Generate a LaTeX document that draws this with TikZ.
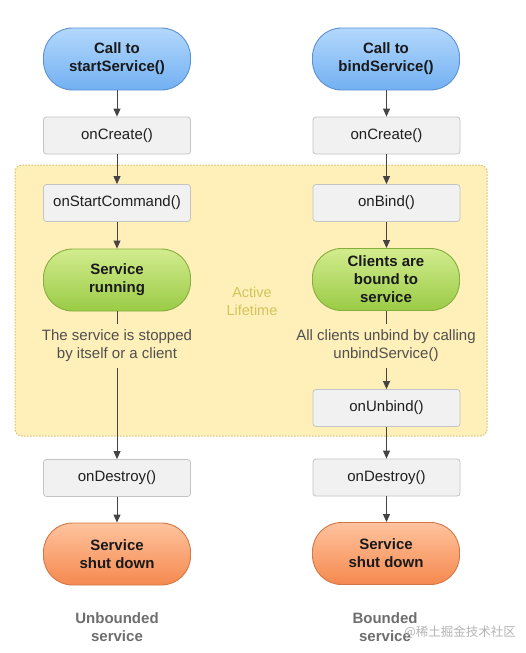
\documentclass[tikz,border=0pt]{standalone}
\usepackage{fontspec}
\setmainfont{Liberation Sans}
\newfontfamily\cjk{Noto Sans CJK SC}
\usetikzlibrary{arrows.meta}
\definecolor{boxfill}{HTML}{F1F1F1}
\definecolor{boxline}{HTML}{C4C4C4}
\definecolor{actfill}{HTML}{FFEFB8}
\definecolor{actline}{HTML}{D9C373}
\definecolor{acttext}{HTML}{D2C45C}
\definecolor{bluetop}{HTML}{B3D8FC}
\definecolor{bluebot}{HTML}{72B0F2}
\definecolor{blueline}{HTML}{5B92D4}
\definecolor{greentop}{HTML}{D2EC8E}
\definecolor{greenbot}{HTML}{9ACB45}
\definecolor{greenline}{HTML}{86AE3E}
\definecolor{orangetop}{HTML}{FFC39E}
\definecolor{orangebot}{HTML}{F5894F}
\definecolor{orangeline}{HTML}{D47747}
\definecolor{arrowc}{HTML}{444444}
\definecolor{notec}{HTML}{505050}
\definecolor{labelc}{HTML}{6E6E6E}
\definecolor{wmark}{HTML}{B4B4B4}
\begin{document}
\begin{tikzpicture}[x=1pt,y=-1pt,
  stepbox/.style={draw=boxline, fill=boxfill, rounded corners=3pt, line width=0.8pt,
    minimum width=147pt, minimum height=37pt, inner sep=0pt, text=black!88,
    font=\fontsize{15}{18}\selectfont},
  pill/.style={rounded corners=29pt, line width=0.9pt, minimum width=147pt,
    minimum height=62pt, inner sep=0pt, align=center, text=black!90,
    font=\bfseries\fontsize{15}{18}\selectfont},
  bluepill/.style={pill, draw=blueline, top color=bluetop, bottom color=bluebot},
  greenpill/.style={pill, draw=greenline, top color=greentop, bottom color=greenbot},
  orangepill/.style={pill, draw=orangeline, top color=orangetop, bottom color=orangebot},
  note/.style={align=center, text=notec, inner sep=6pt, font=\fontsize{15}{18}\selectfont},
  flow/.style={draw=arrowc, line width=1pt, -{Triangle[width=7pt,length=8pt]}},
  plain/.style={draw=arrowc, line width=1pt},
  caption/.style={align=center, text=labelc, font=\bfseries\fontsize{15}{18}\selectfont},
]
\useasboundingbox (0,0) rectangle (525,653);
\fill[white] (0,0) rectangle (525,653);
% active lifetime region
\draw[fill=actfill, draw=actline, line width=1pt, dash pattern=on 1.5pt off 1.5pt,
  rounded corners=7pt] (15,165) rectangle (487,436);
\node[align=center, text=acttext, font=\fontsize{14.5}{18}\selectfont] (al) at (252,301) {Active\\Lifetime};

% left column
\node[bluepill] (ls) at (117,59) {Call to\\startService()};
\node[stepbox] (lc) at (117,135.5) {onCreate()};
\node[stepbox] (lsc) at (117,203) {onStartCommand()};
\node[greenpill] (lr) at (117,280) {Service\\running};
\node[note] (ln) at (117,346) {The service is stopped\\by itself or a client};
\node[stepbox] (ld) at (117,478) {onDestroy()};
\node[orangepill] (lx) at (117,554) {Service\\shut down};
\node[caption] (lcap) at (117,627) {Unbounded\\service};

% right column
\node[bluepill] (rs) at (386,59) {Call to\\bindService()};
\node[stepbox] (rc) at (386.5,135.5) {onCreate()};
\node[stepbox] (rb) at (386.5,203) {onBind()};
\node[greenpill] (rr) at (386,279.5) {Clients are\\bound to\\service};
\node[note] (rn) at (386,346) {All clients unbind by calling\\unbindService()};
\node[stepbox] (ru) at (386.5,408) {onUnbind()};
\node[stepbox] (rd) at (386.5,477.5) {onDestroy()};
\node[orangepill] (rx) at (386,553.5) {Service\\shut down};
\node[caption] (rcap) at (385,627) {Bounded\\service};

\node[text=wmark, font=\cjk\fontsize{12.5}{14}\selectfont, inner sep=0pt] (wm) at (460,632) {@稀土掘金技术社区};

% connectors left
\draw[flow] (ls) -- (lc);
\draw[flow] (lc) -- (lsc);
\draw[flow] (lsc) -- (lr);
\draw[plain] (lr) -- (ln);
\draw[flow] (ln) -- (ld);
\draw[flow] (ld) -- (lx);
% connectors right
\draw[flow] (rs.south -| rc) -- (rc);
\draw[flow] (rc) -- (rb);
\draw[flow] (rb) -- (rr.north -| rb);
\draw[plain] (rr.south -| rb) -- (rn.north -| rb);
\draw[flow] (rn.south -| rb) -- (ru);
\draw[flow] (ru) -- (rd);
\draw[flow] (rd) -- (rx.north -| rd);
\end{tikzpicture}
\end{document}
